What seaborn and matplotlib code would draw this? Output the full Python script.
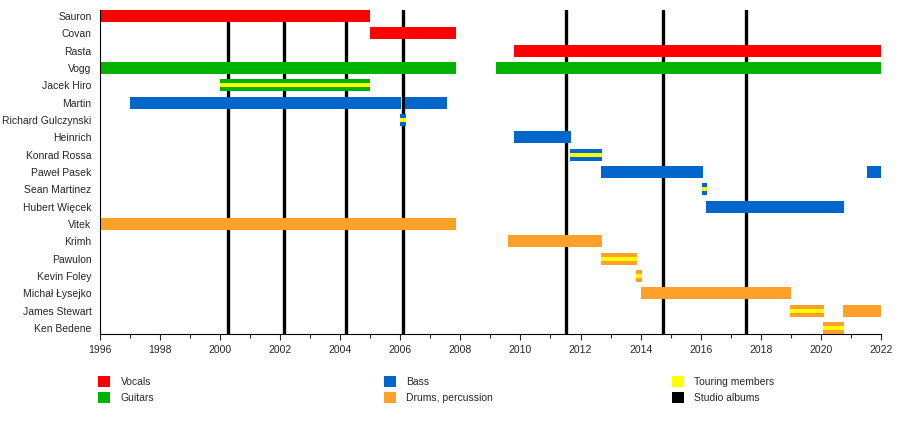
import numpy as np
import pandas as pd
import seaborn as sns
import matplotlib.pyplot as plt
from matplotlib.patches import Patch
from matplotlib.ticker import MultipleLocator

members = ['Sauron', 'Covan', 'Rasta', 'Vogg', 'Jacek Hiro', 'Martin',
           'Richard Gulczynski', 'Heinrich', 'Konrad Rossa', 'Paweł Pasek',
           'Sean Martinez', 'Hubert Więcek', 'Vitek', 'Krimh', 'Pawulon',
           'Kevin Foley', 'Michał Łysejko', 'James Stewart', 'Ken Bedene']

# one row per stint: member, start, end, role, touring
stint_member = ['Sauron', 'Covan', 'Rasta', 'Vogg', 'Vogg', 'Jacek Hiro',
                'Martin', 'Martin', 'Richard Gulczynski', 'Heinrich',
                'Konrad Rossa', 'Paweł Pasek', 'Paweł Pasek', 'Sean Martinez',
                'Hubert Więcek', 'Vitek', 'Krimh', 'Pawulon', 'Kevin Foley',
                'Michał Łysejko', 'James Stewart', 'James Stewart', 'Ken Bedene']
stint_start = [1996.0, 2005.0, 2009.78, 1996.0, 2009.18, 2000.0,
               1997.0, 2006.15, 2006.0, 2009.78,
               2011.65, 2012.68, 2021.53, 2016.04,
               2016.17, 1996.0, 2009.58, 2012.68, 2013.84,
               2014.0, 2018.97, 2020.73, 2020.07]
stint_end = [2005.0, 2007.85, 2022.0, 2007.85, 2022.0, 2005.0,
             2006.02, 2007.55, 2006.2, 2011.68,
             2012.71, 2016.07, 2022.0, 2016.2,
             2020.77, 2007.85, 2012.71, 2013.88, 2014.04,
             2019.0, 2020.1, 2022.0, 2020.77]
stint_role = ['Vocals', 'Vocals', 'Vocals', 'Guitars', 'Guitars', 'Guitars',
              'Bass', 'Bass', 'Bass', 'Bass',
              'Bass', 'Bass', 'Bass', 'Bass',
              'Bass', 'Drums, percussion', 'Drums, percussion', 'Drums, percussion', 'Drums, percussion',
              'Drums, percussion', 'Drums, percussion', 'Drums, percussion', 'Drums, percussion']
stint_touring = [False, False, False, False, False, True,
                 False, False, True, False,
                 True, False, False, True,
                 False, False, False, True, True,
                 False, True, False, True]

albums = [2000.27, 2002.14, 2004.2, 2006.1, 2011.52, 2014.75, 2017.51]

role_colors = {'Vocals': '#ff0000', 'Guitars': '#00b300', 'Bass': '#0066cc',
               'Drums, percussion': '#ffa02a'}
touring_color = '#ffff00'

df = pd.DataFrame({'member': stint_member, 'start': stint_start, 'end': stint_end,
                   'role': stint_role, 'touring': stint_touring})
df['row'] = df['member'].map({m: i for i, m in enumerate(members)})

sns.set_theme(style='ticks')
plt.rcParams['font.family'] = ['Liberation Sans', 'DejaVu Sans']

fig = plt.figure(figsize=(9, 4.24), dpi=100)
ax = fig.add_axes([0.111, 0.2123, 0.8678, 0.7641])

h = 0.69
for x in albums:
    ax.axvline(x, color='black', lw=2.4, zorder=1)

for _, r in df.iterrows():
    ax.barh(r['row'], r['end'] - r['start'], left=r['start'], height=h,
            color=role_colors[r['role']], linewidth=0, zorder=2)
    if r['touring']:
        ax.barh(r['row'], r['end'] - r['start'], left=r['start'], height=h / 3,
                color=touring_color, linewidth=0, zorder=3)

ax.set_xlim(1996, 2022)
ax.set_ylim(len(members) - 1 + h / 2, -h / 2)
ax.set_yticks(range(len(members)))
ax.set_yticklabels(members, fontsize=7.5)
ax.tick_params(axis='y', length=0, pad=6)
ax.xaxis.set_major_locator(MultipleLocator(2))
ax.xaxis.set_minor_locator(MultipleLocator(1))
ax.tick_params(axis='x', which='major', length=4, width=0.8, labelsize=7.5, pad=4)
ax.tick_params(axis='x', which='minor', length=3, width=0.8)
sns.despine(ax=ax)
for s in ['left', 'bottom']:
    ax.spines[s].set_linewidth(0.8)
    ax.spines[s].set_color('black')
ax.grid(False)

# legend: three columns
cols = [['Vocals', 'Guitars'], ['Bass', 'Drums, percussion'], ['Touring members', 'Studio albums']]
legend_colors = dict(role_colors)
legend_colors['Touring members'] = touring_color
legend_colors['Studio albums'] = 'black'
xs = [0.109, 0.4267, 0.7467]
for x0, labels in zip(xs, cols):
    handles = [Patch(facecolor=legend_colors[l], edgecolor='none', label=l) for l in labels]
    fig.legend(handles=handles, loc='upper left', bbox_to_anchor=(x0, 0.1132),
               frameon=False, fontsize=7.5, handlelength=1.15, handleheight=1.25,
               handletextpad=1.0, labelspacing=0.5, borderpad=0, borderaxespad=0)

fig.savefig('out.png', dpi=100)
